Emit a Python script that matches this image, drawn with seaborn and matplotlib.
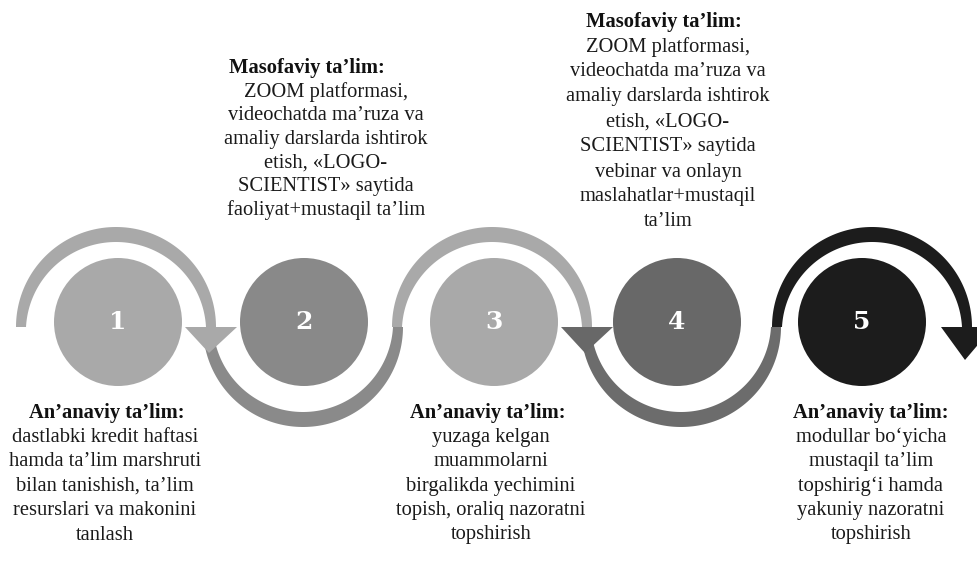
import numpy as np
import pandas as pd
import seaborn as sns
import matplotlib.pyplot as plt
from matplotlib.patches import Polygon

sns.set_theme(style="white")
plt.rcParams['font.family'] = ['Liberation Serif', 'DejaVu Serif']

# bosqichlar (steps)
steps = ['1', '2', '3', '4', '5']
circle_x = [118, 304, 494, 677, 862]
circle_colors = ['#a9a9a9', '#898989', '#a9a9a9', '#686868', '#1c1c1c']

# yoy strelkalar (arcs)
arc_x = [116, 303, 492, 681, 872]
arc_side = ['top', 'bottom', 'top', 'bottom', 'top']
arc_colors = ['#a9a9a9', '#8a8a8a', '#a9a9a9', '#6c6c6c', '#1c1c1c']
head_colors = ['#a9a9a9', None, '#686868', None, '#1c1c1c']

title_top = 'Masofaviy ta’lim:'
title_bottom = 'An’anaviy ta’lim:'
text_2 = ['ZOOM platformasi,', 'videochatda ma’ruza va', 'amaliy darslarda ishtirok',
          'etish, «LOGO-', 'SCIENTIST» saytida', 'faoliyat+mustaqil ta’lim']
text_4 = ['ZOOM platformasi,', 'videochatda ma’ruza va', 'amaliy darslarda ishtirok',
          'etish, «LOGO-', 'SCIENTIST» saytida', 'vebinar va onlayn',
          'maslahatlar+mustaqil', 'ta’lim']
text_1 = ['dastlabki kredit haftasi', 'hamda ta’lim marshruti', 'bilan tanishish, ta’lim',
          'resurslari va makonini', 'tanlash']
text_3 = ['yuzaga kelgan', 'muammolarni', 'birgalikda yechimini',
          'topish, oraliq nazoratni', 'topshirish']
text_5 = ['modullar bo‘yicha', 'mustaqil ta’lim', 'topshirig‘i hamda',
          'yakuniy nazoratni', 'topshirish']

W, H = 978, 564
fig = plt.figure(figsize=(W / 100, H / 100), dpi=100)
ax = fig.add_axes([0, 0, 1, 1])

cy_arc = 327
R = 100


def band(cx, side):
    if side == 'top':
        th = np.linspace(np.pi, 2 * np.pi, 120)
    else:
        th = np.linspace(np.pi, 0, 120)
    s = np.linspace(0, 1, 120)
    t = 10 + 5 * np.sin(np.pi * s)
    outer = np.c_[cx + R * np.cos(th), cy_arc + R * np.sin(th)]
    inner = np.c_[cx + (R - t) * np.cos(th), cy_arc + (R - t) * np.sin(th)]
    return np.vstack([outer, inner[::-1]])


# pastki yoylar avval, keyin ustki yoylar va uchlari
for i in [1, 3]:
    ax.add_patch(Polygon(band(arc_x[i], arc_side[i]), closed=True,
                         facecolor=arc_colors[i], edgecolor='none', zorder=1))
for i in [0, 2, 4]:
    ax.add_patch(Polygon(band(arc_x[i], arc_side[i]), closed=True,
                         facecolor=arc_colors[i], edgecolor='none', zorder=1))
    ex = arc_x[i] + R - 5
    tip = 26 if i < 4 else 33
    head = [(ex - 26, cy_arc), (ex + 26, cy_arc), (ex - 2, cy_arc + tip)]
    ax.add_patch(Polygon(head, closed=True, facecolor=head_colors[i],
                         edgecolor='none', zorder=2))

df = pd.DataFrame({'x': circle_x, 'y': [322] * 5, 'step': steps})
sns.scatterplot(data=df, x='x', y='y', hue='step', palette=circle_colors,
                s=(2 * 64 * 0.72) ** 2, linewidth=0, legend=False, ax=ax, zorder=3)
ax.set_xlim(0, W)
ax.set_ylim(H, 0)
ax.axis('off')

for x, n in zip(circle_x, steps):
    ax.text(x, 322, n, ha='center', va='center', color='white', fontsize=18,
            fontweight='bold', family=['DejaVu Serif'], zorder=4)


def block(xt, xb, y0, gap, title, lines):
    ax.text(xt, y0, title, ha='center', va='center', fontsize=14.8,
            fontweight='bold', color='#111111')
    for k, ln in enumerate(lines):
        ax.text(xb, y0 + gap * (k + 1), ln, ha='center', va='center',
                fontsize=14.8, color='#1a1a1a')


block(307, 326, 68, 23.7, title_top, text_2)
block(664, 668, 22, 25, title_top, text_4)
block(107, 105, 413, 24.4, title_bottom, text_1)
block(488, 491, 413, 24.4, title_bottom, text_3)
block(871, 871, 413, 24.4, title_bottom, text_5)

fig.savefig('out.png', dpi=100)
